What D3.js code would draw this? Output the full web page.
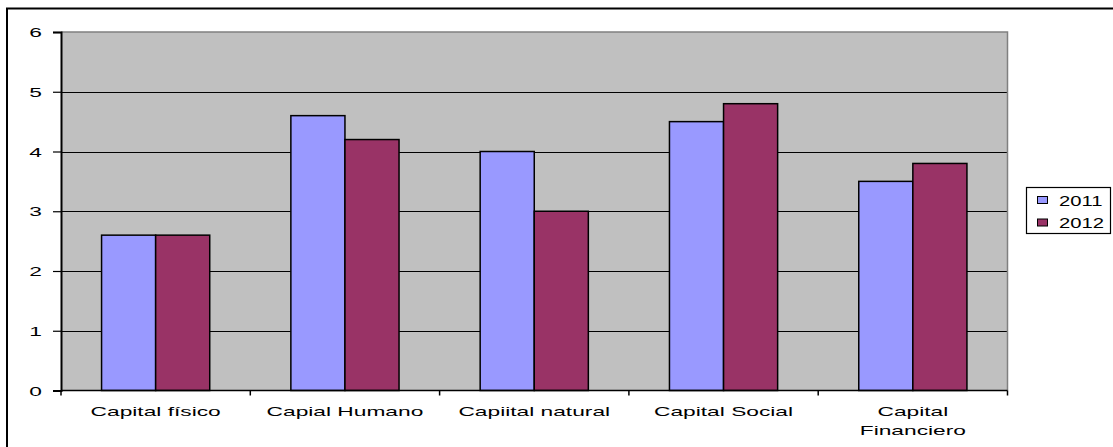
<!DOCTYPE html>
<html>
<head>
<meta charset="utf-8">
<script src="https://cdn.jsdelivr.net/npm/d3@7/dist/d3.min.js"></script>
<style>
  html, body { margin: 0; padding: 0; background: #fff; }
  svg { display: block; font-family: "Liberation Sans", Arial, sans-serif; }
</style>
</head>
<body>
<svg id="chart" width="1113" height="447"></svg>
<script>
// Categories and yearly series
const categories = ["Capital físico", "Capial Humano", "Capiital natural", "Capital Social", "Capital Financiero"];
const seriesNames = ["2011", "2012"];
const values2011 = [2.6, 4.6, 4.0, 4.5, 3.5];
const values2012 = [2.6, 4.2, 3.0, 4.8, 3.8];
const yTicks = [0, 1, 2, 3, 4, 5, 6];
const colors = ["#9999FF", "#993366"];

const svg = d3.select("#chart");
const plot = { left: 61, right: 1007.5, top: 32, bottom: 390.5 };
const stretch = 1.75; // wide rendering of the label text

// Outer chart frame (top and left edges visible)
svg.append("path")
  .attr("d", "M7,447 L7,8.5 L1113,8.5")
  .attr("fill", "none").attr("stroke", "#000").attr("stroke-width", 2);

const x0 = d3.scaleBand().domain(categories).range([plot.left, plot.right]).paddingInner(0).paddingOuter(0);
const bw = x0.bandwidth() / 3.5;
const x1 = d3.scaleBand().domain(seriesNames).range([0.75 * bw, 2.75 * bw]).padding(0);
const y = d3.scaleLinear().domain([0, 6]).range([plot.bottom, plot.top]);

// Plot background
svg.append("rect")
  .attr("x", plot.left).attr("y", plot.top)
  .attr("width", plot.right - plot.left).attr("height", plot.bottom - plot.top)
  .attr("fill", "#C0C0C0");

// Gridlines
svg.append("g").selectAll("line").data(yTicks.filter(d => d > 0 && d < 6)).join("line")
  .attr("x1", plot.left).attr("x2", plot.right)
  .attr("y1", d => Math.round(y(d)) + 0.5).attr("y2", d => Math.round(y(d)) + 0.5)
  .attr("stroke", "#000").attr("stroke-width", 1.2);

// Plot top/right border
svg.append("path")
  .attr("d", `M${plot.left},${plot.top} L${plot.right},${plot.top} L${plot.right},${plot.bottom}`)
  .attr("fill", "none").attr("stroke", "#808080").attr("stroke-width", 1.5);

// Bars
const rows = categories.map((c, i) => ({ c, vals: [values2011[i], values2012[i]] }));
const groups = svg.append("g").selectAll("g").data(rows).join("g")
  .attr("transform", d => `translate(${x0(d.c)},0)`);
groups.selectAll("rect").data(d => d.vals.map((v, j) => ({ v, s: seriesNames[j], j }))).join("rect")
  .attr("x", d => x1(d.s))
  .attr("y", d => y(d.v))
  .attr("width", x1.bandwidth())
  .attr("height", d => y(0) - y(d.v))
  .attr("fill", d => colors[d.j])
  .attr("stroke", "#000").attr("stroke-width", 1.5);

// Y axis
const yAxis = d3.axisLeft(y).tickValues(yTicks).tickSize(8).tickPadding(0).tickFormat(d3.format("d"));
const gy = svg.append("g").attr("transform", `translate(${plot.left},0)`).call(yAxis);
gy.select(".domain").attr("stroke", "#000").attr("stroke-width", 2);
gy.selectAll(".tick line").attr("stroke", "#000").attr("stroke-width", 1.2);
gy.selectAll(".tick text")
  .attr("x", 0).attr("dy", null).attr("y", 0)
  .attr("transform", `translate(-19,4.6) scale(${stretch},1)`)
  .attr("font-size", 13).attr("fill", "#000")
  .attr("font-family", "Liberation Sans, Arial, sans-serif");

// X axis line and category boundary ticks
svg.append("line")
  .attr("x1", plot.left).attr("x2", plot.right)
  .attr("y1", plot.bottom).attr("y2", plot.bottom)
  .attr("stroke", "#000").attr("stroke-width", 1.5);
const bounds = categories.map(c => x0(c)).concat([plot.right]);
svg.append("g").selectAll("line").data(bounds).join("line")
  .attr("x1", d => d).attr("x2", d => d)
  .attr("y1", plot.bottom).attr("y2", plot.bottom + 5)
  .attr("stroke", "#000").attr("stroke-width", 1.5);

// Category labels (the long one wraps onto two lines)
const labels = svg.append("g").selectAll("text").data(categories).join("text")
  .attr("transform", d => `translate(${x0(d) + x0.bandwidth() / 2},416) scale(${stretch},1)`)
  .attr("text-anchor", "middle")
  .attr("font-size", 13)
  .attr("fill", "#000");
labels.each(function(d) {
  const t = d3.select(this);
  if (d === "Capital Financiero") {
    d.split(" ").forEach((p, i) => {
      t.append("tspan").attr("x", 0).attr("dy", i === 0 ? 0 : 19.5).text(p);
    });
  } else {
    t.text(d);
  }
});

// Legend
const lg = svg.append("g");
lg.append("rect").attr("x", 1026.5).attr("y", 187.5).attr("width", 84).attr("height", 46)
  .attr("fill", "#fff").attr("stroke", "#000").attr("stroke-width", 1.2);
seriesNames.forEach((s, i) => {
  const yy = 200 + i * 22.5;
  lg.append("rect").attr("x", 1037.5).attr("y", yy - 3.5).attr("width", 10).attr("height", 7)
    .attr("fill", colors[i]).attr("stroke", "#000").attr("stroke-width", 1);
  lg.append("text")
    .attr("transform", `translate(1059,${yy + 5.5}) scale(1.35,1)`)
    .attr("font-size", 15).attr("fill", "#000").text(s);
});
</script>
</body>
</html>
